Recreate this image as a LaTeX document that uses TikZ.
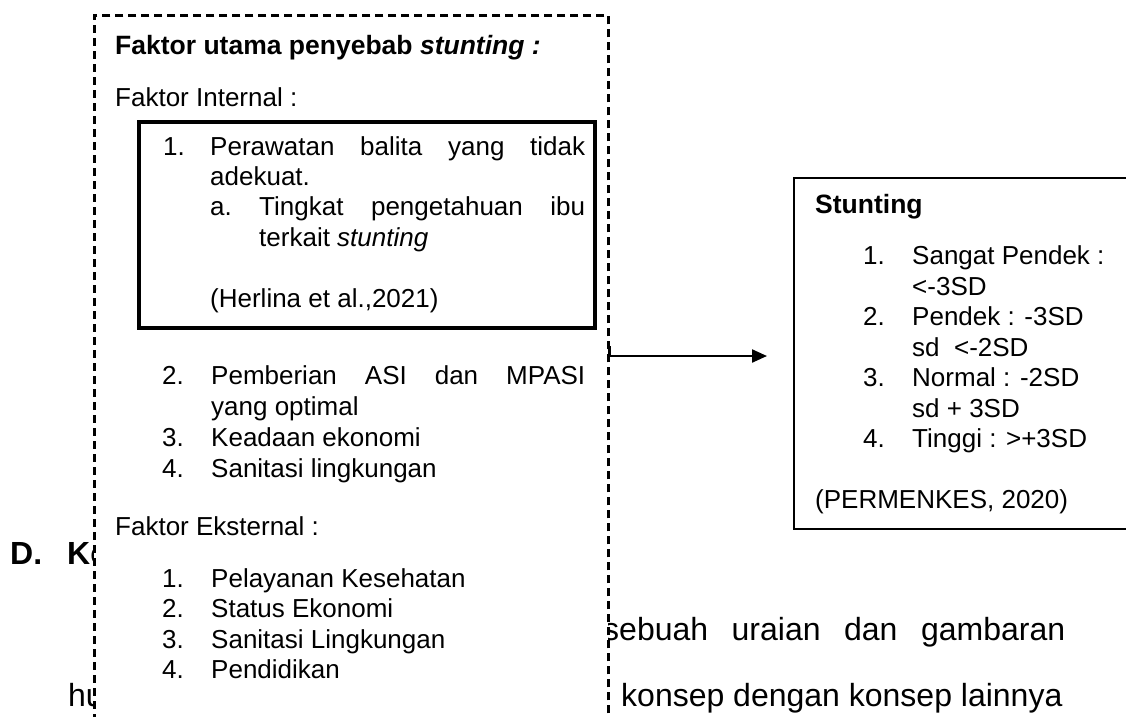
\documentclass[tikz,border=0pt]{standalone}
\usepackage{fontspec}
\setmainfont{Liberation Sans}
\usetikzlibrary{arrows.meta}
\newcommand{\boxfont}{\fontsize{26}{30}\selectfont}
\newcommand{\bodyfont}{\fontsize{32}{36}\selectfont}
\tikzset{
  txt/.style={anchor=base west, inner sep=0pt, font=\boxfont},
  txtb/.style={anchor=base west, inner sep=0pt, font=\fontsize{26.5}{30}\selectfont\bfseries},
  body/.style={anchor=base west, inner sep=0pt, font=\bodyfont},
  bodyb/.style={anchor=base west, inner sep=0pt, font=\bodyfont\bfseries},
  dashbox/.style={draw, fill=white, line width=2.5pt, dash pattern=on 8pt off 5pt, inner sep=0pt, anchor=north west},
  innerbox/.style={draw, line width=3.5pt, inner sep=0pt, anchor=north west},
  stbox/.style={draw, fill=white, line width=2.3pt, inner sep=0pt, anchor=north west},
  link/.style={line width=2.2pt, -{Triangle[length=15pt,width=13pt]}},
}
\begin{document}
\begin{tikzpicture}[x=1pt,y=-1pt]
\useasboundingbox (0,0) rectangle (1126,716);
\clip (0,0) rectangle (1126,716);
% background body text (partly covered by the dashed box)
\node[bodyb] (hD) at (10,564) {D.};
\node[bodyb] (hK) at (67,564) {Ke};
\node[body] (l1) at (603,640) {\makebox[462pt][s]{sebuah uraian dan gambaran}};
\node[body] (l2a) at (68,706) {hub};
\node[body] (l2b) at (621,706) {konsep dengan konsep lainnya};
% dashed box
\node[dashbox, minimum width=514pt, minimum height=730pt] (outer) at (93,14) {};
\node[txtb] (title) at (115,54) {Faktor utama penyebab \textit{stunting :}};
\node[txt] (fi) at (115,106) {Faktor Internal :};
\node[innerbox, minimum width=456pt, minimum height=206pt] (ibox) at (137,120) {};
\node[txt] (n1) at (163,155) {1.};
\node[txt] (t1) at (210,155) {\makebox[375pt][s]{Perawatan balita yang tidak}};
\node[txt] (t1b) at (210,185) {adekuat.};
\node[txt] (na) at (210,215) {a.};
\node[txt] (ta) at (259,215) {\makebox[326pt][s]{Tingkat pengetahuan ibu}};
\node[txt] (tab) at (259,246) {terkait \textit{stunting}};
\node[txt] (ref1) at (210,307) {(Herlina et al.,2021)};
\node[txt] (n2) at (162,384) {2.};
\node[txt] (t2) at (211,384) {\makebox[374pt][s]{Pemberian ASI dan MPASI}};
\node[txt] (t2b) at (211,415) {yang optimal};
\node[txt] (n3) at (162,446) {3.};
\node[txt] (t3) at (211,446) {Keadaan ekonomi};
\node[txt] (n4) at (162,477) {4.};
\node[txt] (t4) at (211,477) {Sanitasi lingkungan};
\node[txt] (fe) at (115,535) {Faktor Eksternal :};
\node[txt] (e1n) at (162,587) {1.};
\node[txt] (e1) at (211,587) {Pelayanan Kesehatan};
\node[txt] (e2n) at (162,617) {2.};
\node[txt] (e2) at (211,617) {Status Ekonomi};
\node[txt] (e3n) at (162,648) {3.};
\node[txt] (e3) at (211,648) {Sanitasi Lingkungan};
\node[txt] (e4n) at (162,678) {4.};
\node[txt] (e4) at (211,678) {Pendidikan};
% stunting box
\node[stbox, minimum width=360pt, minimum height=351pt] (sbox) at (793,177) {};
\node[txtb] (st) at (815,213) {Stunting};
\node[txt] (s1n) at (863,264) {1.};
\node[txt] (s1) at (912,264) {Sangat Pendek :};
\node[txt] (s1b) at (912,295) {<-3SD};
\node[txt] (s2n) at (863,325) {2.};
\node[txt] (s2) at (912,325) {Pendek : -3SD};
\node[txt] (s2b) at (912,356) {sd\ \ <-2SD};
\node[txt] (s3n) at (863,386) {3.};
\node[txt] (s3) at (912,386) {Normal : -2SD};
\node[txt] (s3b) at (912,417) {sd + 3SD};
\node[txt] (s4n) at (863,447) {4.};
\node[txt] (s4) at (912,447) {Tinggi : >+3SD};
\node[txt] (ref2) at (815,508) {(PERMENKES, 2020)};
% arrow
\coordinate (aE) at (767,356);
\draw[link] ([yshift=10pt]outer.east |- aE) -- (outer.east |- aE) -- (aE);
\end{tikzpicture}
\end{document}
